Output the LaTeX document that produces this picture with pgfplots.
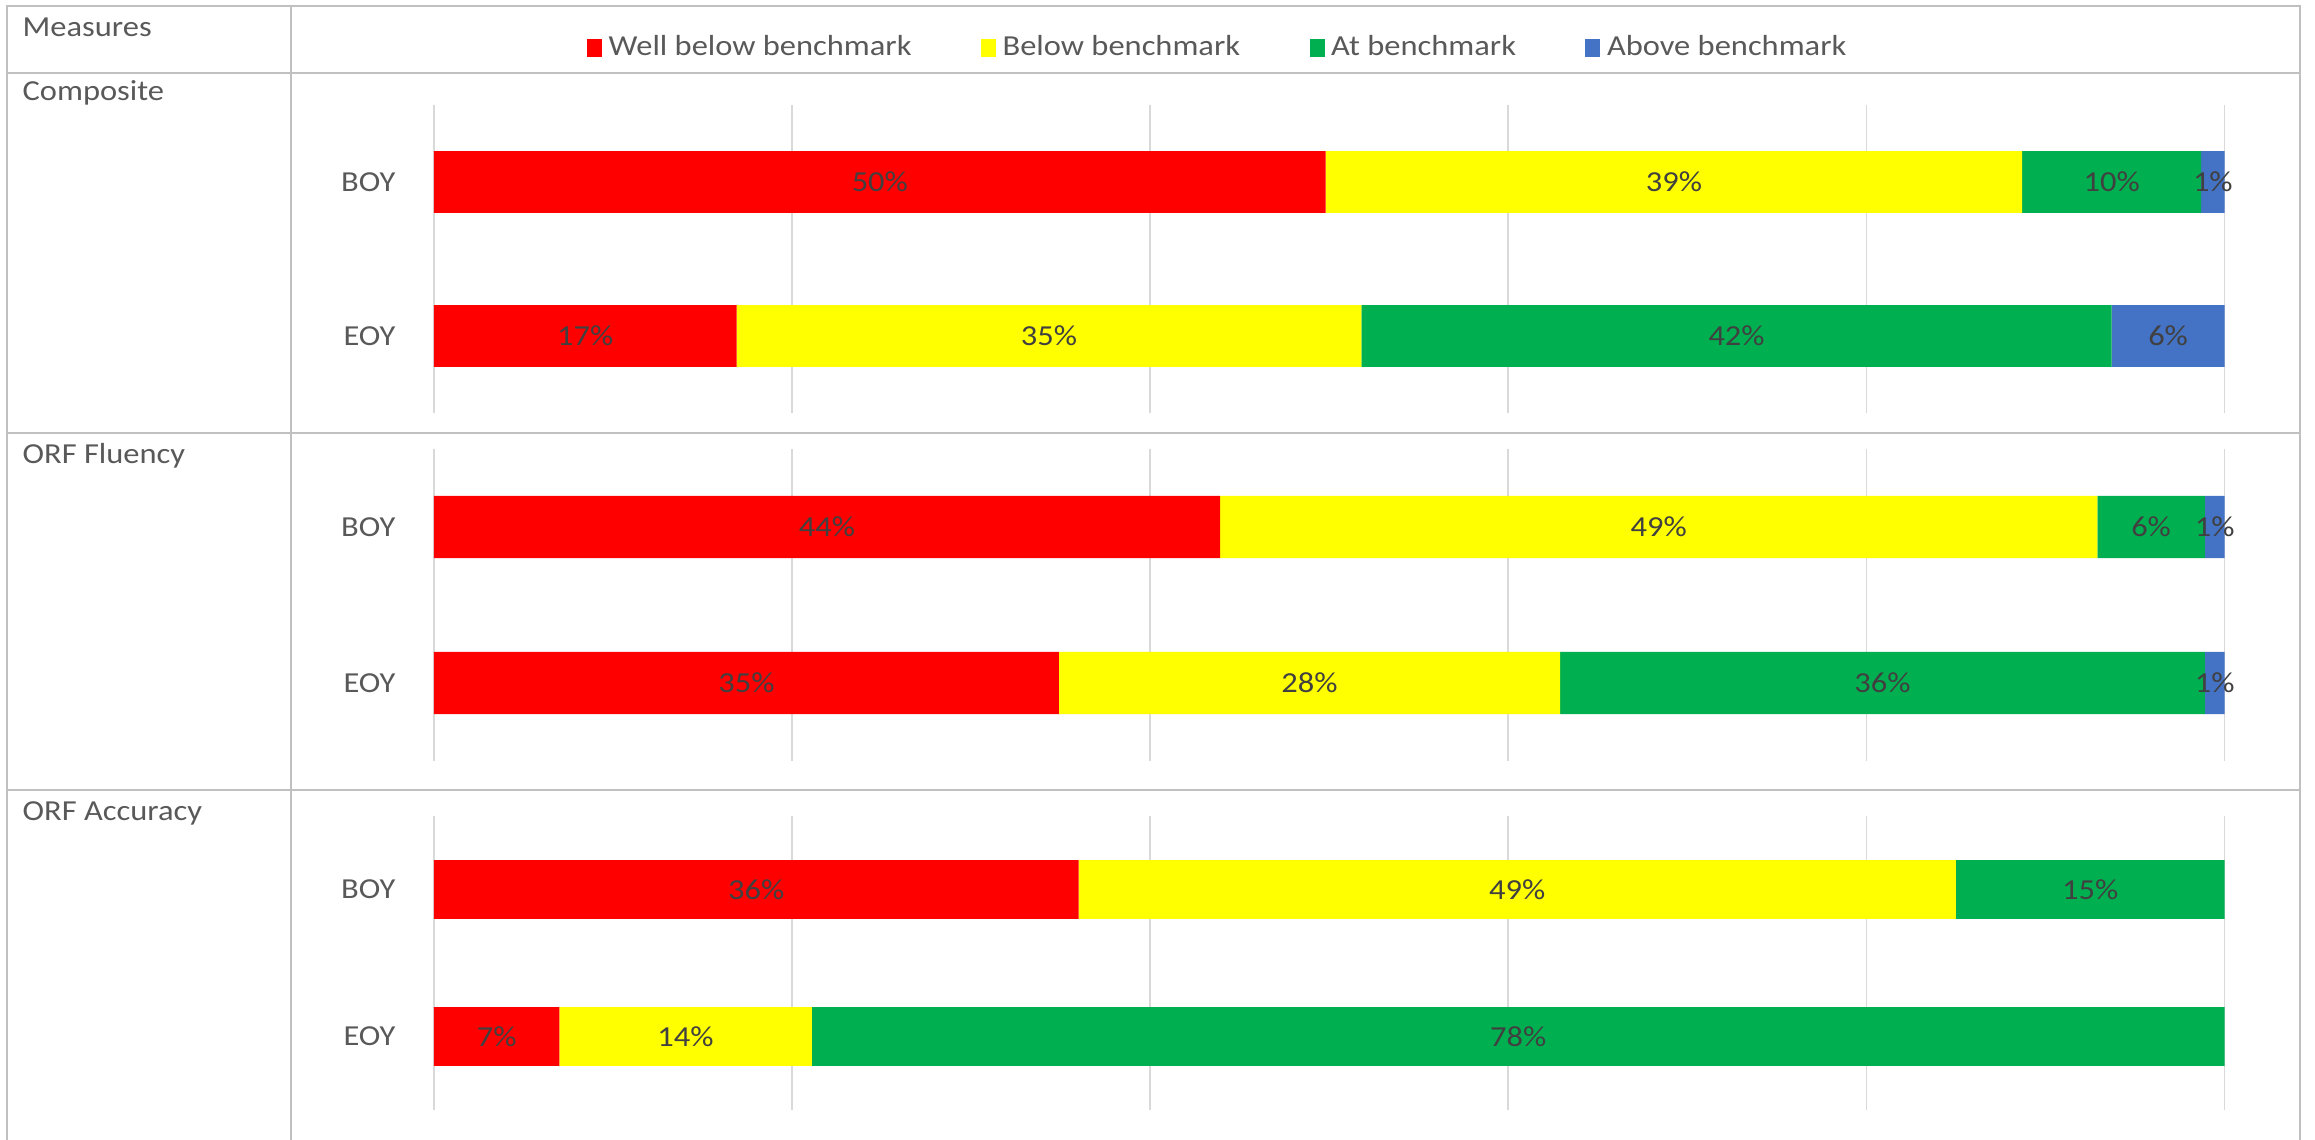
\documentclass[border=0pt]{standalone}
\usepackage{fontspec}
\setmainfont{Carlito}[FakeStretch=1.12]
\usepackage{pgfplots}
\usepackage{pgfplotstable}
\pgfplotsset{compat=1.18}
\definecolor{wbred}{HTML}{FF0000}
\definecolor{byel}{HTML}{FFFF00}
\definecolor{atgreen}{HTML}{00B050}
\definecolor{abblue}{HTML}{4472C4}
\definecolor{txtgray}{HTML}{595959}
\definecolor{lblgray}{HTML}{404040}
\definecolor{gridgray}{HTML}{D9D9D9}
\definecolor{tblgray}{HTML}{C0C0C0}

% pos: 1 = BOY, 0 = EOY ; v = segment length (%), l = label
\pgfplotstableread{
pos v1 l1 v2 l2 v3 l3 v4 l4
1 49.8 50 38.9 39 10.0 10 1.3 1
0 16.9 17 34.9 35 41.9 42 6.3 6
}\composite
\pgfplotstableread{
pos v1 l1 v2 l2 v3 l3 v4 l4
1 43.9 44 49.0 49 6.0 6 1.1 1
0 34.9 35 28.0 28 36.0 36 1.1 1
}\fluency
\pgfplotstableread{
pos v1 l1 v2 l2 v3 l3
1 36.0 36 49.0 49 15.0 15
0 7.0 7 14.1 14 78.9 78
}\accuracy

\newcommand\lblfont{\fontsize{8.7}{10.4}\selectfont}

\pgfplotsset{
  panel/.style={
    xbar stacked, bar width=0.4,
    scale only axis, width=537.15pt,
    anchor=north west,
    xmin=0, xmax=100, ymin=-0.5, ymax=1.5,
    enlargelimits=false,
    xtick={0,20,...,100}, xticklabels={},
    xmajorgrids, grid style={gridgray, line width=0.5pt},
    axis line style={draw=none},
    major tick length=0pt,
    tick style={draw=none},
    ytick={0,1}, yticklabels={EOY,BOY},
    yticklabel style={font=\lblfont, text=txtgray, inner sep=0pt, xshift=-11.4pt},
    clip=false,
    point meta=explicit symbolic,
    nodes near coords={\pgfplotspointmeta\%},
    every node near coord/.append style={font=\lblfont, text=lblgray, anchor=center},
  },
}

\begin{document}
\begin{tikzpicture}[font=\lblfont]
\path[use as bounding box] (0pt,0pt) rectangle (694.5pt,-342pt);
% table frame
\begin{scope}[draw=tblgray, line width=0.75pt]
  \draw (2.1pt,-342pt) -- (2.1pt,-1.8pt) -- (690pt,-1.8pt) -- (690pt,-342pt);
  \draw (87.3pt,-1.8pt) -- (87.3pt,-342pt);
  \draw (2.1pt,-21.9pt) -- (690pt,-21.9pt);
  \draw (2.1pt,-129.9pt) -- (690pt,-129.9pt);
  \draw (2.1pt,-237pt) -- (690pt,-237pt);
\end{scope}
\node[anchor=base west, inner sep=0pt, text=txtgray] at (6.6pt,-11.0pt) {Measures};
\node[anchor=base west, inner sep=0pt, text=txtgray] at (6.6pt,-30.3pt) {Composite};
\node[anchor=base west, inner sep=0pt, text=txtgray] at (6.6pt,-139.2pt) {ORF Fluency};
\node[anchor=base west, inner sep=0pt, text=txtgray] at (6.6pt,-246.3pt) {ORF Accuracy};

% Composite
\begin{axis}[panel, at={(130.2pt,-31.5pt)}, height=92.4pt,
  legend columns=4,
  legend style={draw=none, fill=none, at={(axis description cs:0.439,1.185)}, anchor=center,
    font=\lblfont, text=txtgray,
    /tikz/every even column/.append style={column sep=18.8pt}},
  legend image code/.code={\fill[#1,draw=none] (0pt,-2.7pt) rectangle (4.5pt,2.7pt);},
]
\addplot[fill=wbred, draw=none] table[x=v1, y=pos, meta=l1] {\composite};
\addplot[fill=byel, draw=none] table[x=v2, y=pos, meta=l2] {\composite};
\addplot[fill=atgreen, draw=none] table[x=v3, y=pos, meta=l3] {\composite};
\addplot[fill=abblue, draw=none] table[x=v4, y=pos, meta=l4] {\composite};
\legend{Well below benchmark, Below benchmark, At benchmark, Above benchmark}
\end{axis}

% ORF Fluency
\begin{axis}[panel, at={(130.2pt,-134.7pt)}, height=93.6pt]
\addplot[fill=wbred, draw=none] table[x=v1, y=pos, meta=l1] {\fluency};
\addplot[fill=byel, draw=none] table[x=v2, y=pos, meta=l2] {\fluency};
\addplot[fill=atgreen, draw=none] table[x=v3, y=pos, meta=l3] {\fluency};
\addplot[fill=abblue, draw=none] table[x=v4, y=pos, meta=l4] {\fluency};
\end{axis}

% ORF Accuracy
\begin{axis}[panel, at={(130.2pt,-244.8pt)}, height=88.2pt]
\addplot[fill=wbred, draw=none] table[x=v1, y=pos, meta=l1] {\accuracy};
\addplot[fill=byel, draw=none] table[x=v2, y=pos, meta=l2] {\accuracy};
\addplot[fill=atgreen, draw=none] table[x=v3, y=pos, meta=l3] {\accuracy};
\end{axis}
\end{tikzpicture}
\end{document}
